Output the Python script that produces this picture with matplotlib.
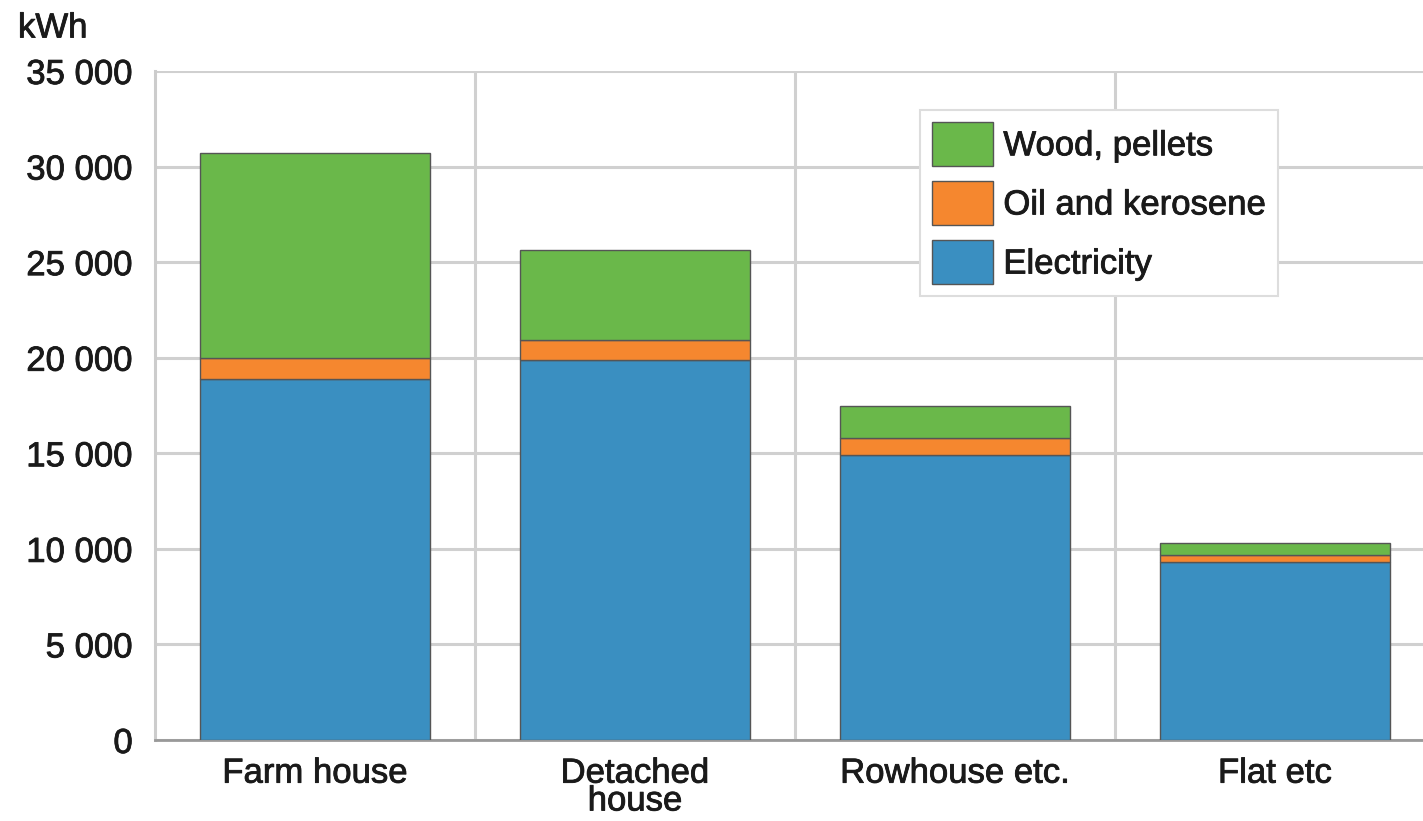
import matplotlib.pyplot as plt
import matplotlib.patheffects as pe
import numpy as np
from matplotlib.ticker import FuncFormatter

plt.rcParams['font.family'] = ['Liberation Sans', 'DejaVu Sans']
plt.rcParams['font.size'] = 25
plt.rcParams['text.color'] = '#1a1a1a'

# data (kWh per dwelling)
categories = ['Farm house', 'Detached\nhouse', 'Rowhouse etc.', 'Flat etc']
electricity = [18900, 19900, 14900, 9300]
oil = [1100, 1050, 900, 400]
wood = [10700, 4700, 1700, 600]
series_labels = ['Electricity', 'Oil and kerosene', 'Wood, pellets']
colors = ['#3a8fc1', '#f5872f', '#6ab84a']

heavy = [pe.withStroke(linewidth=0.6, foreground='#1a1a1a')]

fig = plt.figure(figsize=(14.23, 8.21), dpi=100)
ax = fig.add_axes([155 / 1423, (821 - 740) / 821, 1280 / 1423, 669 / 821])

x = np.arange(len(categories))
bottom = np.zeros(len(categories))
handles = []
for vals, lab, col in zip([electricity, oil, wood], series_labels, colors):
    b = ax.bar(x, vals, width=0.72, bottom=bottom, color=col,
               edgecolor='#555555', linewidth=1.0, label=lab, zorder=3)
    handles.append(b)
    bottom += np.array(vals)

ax.set_xlim(-0.5, 3.5)
ax.set_ylim(0, 35000)
ax.set_yticks(np.arange(0, 35001, 5000))
ax.yaxis.set_major_formatter(FuncFormatter(lambda v, p: f'{int(v):,}'.replace(',', ' ')))
ax.set_xticks(x)
ax.set_xticklabels(categories, linespacing=0.8)
ax.set_xticks([0.5, 1.5, 2.5], minor=True)
ax.tick_params(axis='both', which='both', length=0, labelcolor='#1a1a1a')
ax.tick_params(axis='y', pad=16)
ax.tick_params(axis='x', pad=12)
for t in ax.get_xticklabels() + ax.get_yticklabels():
    t.set_path_effects(heavy)

ax.grid(axis='y', which='major', color='#d0d0d0', linewidth=2.2, zorder=0)
ax.grid(axis='x', which='minor', color='#d0d0d0', linewidth=2.2, zorder=0)
ax.grid(axis='x', which='major', visible=False)

for s in ['top', 'right']:
    ax.spines[s].set_visible(False)
ax.spines['left'].set_color('#cccccc')
ax.spines['left'].set_linewidth(2.2)
ax.spines['bottom'].set_color('#999999')
ax.spines['bottom'].set_linewidth(2)

leg = ax.legend(handles[::-1], series_labels[::-1], loc='upper left',
                bbox_to_anchor=(765 / 1280, 1 - 39 / 669), fancybox=False,
                framealpha=1, edgecolor='#dddddd', fontsize=25,
                handlelength=1.75, handleheight=1.55, handletextpad=0.3,
                labelspacing=0.45, borderpad=0.35, borderaxespad=0)
leg.get_frame().set_linewidth(1.5)
leg.set_zorder(5)
for t in leg.get_texts():
    t.set_path_effects(heavy)

fig.text(18 / 1423, 1 - 28 / 821, 'kWh', fontsize=25, va='center', ha='left',
         path_effects=heavy)

fig.savefig('out.png', dpi=100)
